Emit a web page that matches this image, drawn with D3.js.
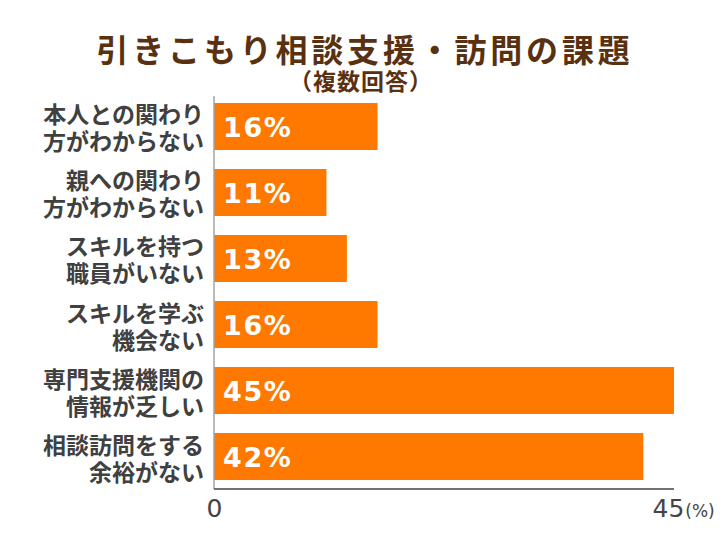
<!DOCTYPE html>
<html><head><meta charset="utf-8">
<script src="https://cdn.jsdelivr.net/npm/d3@7"></script>
<style>html,body{margin:0;padding:0;background:#fff;}</style>
</head><body>
<svg id="c" width="726" height="545"></svg>
<script>
const categories = [
  ["本人との関わり","方がわからない"],
  ["親への関わり","方がわからない"],
  ["スキルを持つ","職員がいない"],
  ["スキルを学ぶ","機会ない"],
  ["専門支援機関の","情報が乏しい"],
  ["相談訪問をする","余裕がない"]
];
const values = [16, 11, 13, 16, 45, 42];
const tickValues = [0, 45];
const title = "引きこもり相談支援・訪問の課題";
const subtitle = "（複数回答）";

const svg = d3.select("#c");
const jp = "'Noto Sans CJK JP','Noto Sans',sans-serif";

const x = d3.scaleLinear().domain([0, 45]).range([214, 674]);
const y = d3.scaleBand().domain(d3.range(categories.length)).range([103, 480]).paddingInner(0.288).paddingOuter(0);

// title
svg.append("text").attr("x", 365).attr("y", 48).attr("text-anchor", "middle")
  .attr("dominant-baseline", "central")
  .style("font-family", jp).style("font-weight", "bold").style("font-size", "32px")
  .style("letter-spacing", "3.8px").attr("fill", "#5a3110").text(title);
svg.append("text").attr("x", 361).attr("y", 80).attr("text-anchor", "middle")
  .attr("dominant-baseline", "central")
  .style("font-family", jp).style("font-weight", "bold").style("font-size", "23px")
  .style("letter-spacing", "1px")
  .attr("fill", "#5a3110").text(subtitle);

// bars
svg.append("g").selectAll("rect").data(values).join("rect")
  .attr("x", x(0) + 0.5).attr("y", (d, i) => y(i))
  .attr("width", d => x(d) - x(0) - 0.5).attr("height", y.bandwidth())
  .attr("fill", "#ff7800");

// value labels
svg.append("g").selectAll("text").data(values).join("text")
  .attr("x", x(0) + 9).attr("y", (d, i) => y(i) + y.bandwidth() / 2 + 1)
  .attr("dominant-baseline", "central")
  .style("font-family", "'DejaVu Sans',Verdana,sans-serif").style("font-weight", "bold")
  .style("font-size", "27px").style("letter-spacing", "1.6px")
  .attr("fill", "#fff").text(d => d + "%");

// category labels
const lg = svg.append("g").selectAll("text").data(categories).join("text")
  .attr("text-anchor", "end")
  .style("font-family", jp).style("font-weight", "bold").style("font-size", "23px")
  .attr("fill", "#404040");
lg.selectAll("tspan").data((d, i) => d.map((t, j) => ({t, j, i}))).join("tspan")
  .attr("x", 204).attr("y", d => y(d.i) + y.bandwidth() / 2 + (d.j === 0 ? -13 : 14))
  .attr("dominant-baseline", "central")
  .text(d => d.t);

// y axis line
svg.append("line").attr("x1", 214).attr("x2", 214).attr("y1", 96).attr("y2", 489)
  .attr("stroke", "#777").attr("stroke-width", 1);

// x axis
const xa = svg.append("g").attr("transform", "translate(0,489)")
  .call(d3.axisBottom(x).tickValues(tickValues).tickSize(0).tickPadding(10).tickFormat(d3.format("d")));
xa.select(".domain").attr("stroke", "#444").attr("stroke-width", 1.6).attr("d", `M${x(0)},0H${x(45)}`);
xa.selectAll(".tick text").style("font-family", "'DejaVu Sans',Verdana,sans-serif")
  .style("font-size", "25px").attr("fill", "#444").attr("dy", "0.72em");
const last = xa.selectAll(".tick").filter(d => d === 45).select("text");
last.attr("text-anchor", "start").attr("x", -22);
last.append("tspan").style("font-size", "17px").attr("dx", 1).text("(%)");
</script>
</body></html>
